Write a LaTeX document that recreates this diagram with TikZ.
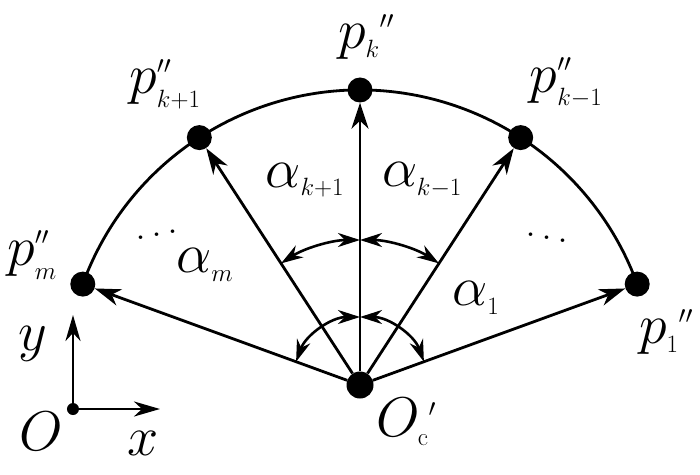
\RequirePackage{fix-cm}
\documentclass[tikz,border=0pt]{standalone}
\usetikzlibrary{arrows.meta}
\DeclareMathSizes{56}{56}{25}{20}
\DeclareMathSizes{44}{44}{30}{20}
\tikzstyle{point}=[circle, fill=black, inner sep=0pt, minimum size=25pt]
\newcommand{\point}{\node[point]}
\tikzstyle{lbl}=[inner sep=0pt, font=\fontsize{56}{62}\selectfont]
\tikzstyle{spoke}=[line width=2.8pt, -{Stealth[length=26pt,width=17pt,inset=8pt]}]
\tikzstyle{angarrow}=[line width=2.6pt, {Stealth[length=22pt,width=14pt,inset=7pt]}-{Stealth[length=22pt,width=14pt,inset=7pt]}]

\begin{document}
\begin{tikzpicture}[x=1pt, y=1pt]
\useasboundingbox (-360,-89) rectangle (340,385);
%sector
\draw[line width=2.8pt] (160:295pt) arc[start angle=160, end angle=20, radius=295pt];
%vertices
\point[minimum size=27pt] (Oc) at (0,0){};
\foreach \a/\n in {160/pm, 123/pk1, 90/pk, 57/pkm, 20/p1}{
	\point (\n) at (\a:295pt){};}
%spokes
\foreach \n in {pm, pk1, pk, pkm, p1}{
	\draw[spoke] (Oc) -- (\n);}
%angles
\draw[angarrow] (123:145pt) arc[start angle=123, end angle=90, radius=145pt];
\draw[angarrow] (90:145pt) arc[start angle=90, end angle=57, radius=145pt];
\draw[angarrow] (160:68pt) arc[start angle=160, end angle=90, radius=68pt];
\draw[angarrow] (90:68pt) arc[start angle=90, end angle=20, radius=68pt];
%names
\node[lbl] (lpm) at (-328,130){$p''_m$};
\node[lbl] (lpk1) at (-195,301){$p''_{k+1}$};
\node[lbl] (lpk) at (6,348){$p_k{}''$};
\node[lbl] (lpkm) at (206,302){$p''_{k-1}$};
\node[lbl] (lp1) at (306,53){$p_1{}''$};
\node[lbl] (lam) at (-155,120){$\alpha_m$};
\node[lbl] (lak1) at (-55,205){$\alpha_{k+1}$};
\node[lbl] (lakm) at (62,205){$\alpha_{k-1}$};
\node[lbl] (la1) at (116,87){$\alpha_1$};
\node[lbl, font=\fontsize{44}{48}\selectfont, xscale=-1] (dl) at (-203,153){$\ddots$};
\node[lbl, font=\fontsize{44}{48}\selectfont] (dr) at (187,150){$\ddots$};
\node[lbl] (lOc) at (46,-37){$O_{\mathrm{c}}{}'$};
%axes
\node[point, minimum size=12pt] (orig) at (-287,-24){};
\coordinate (xend) at (-200,-24);
\coordinate (yend) at (-287,70);
\draw[line width=2.8pt, -{Stealth[length=26pt,width=15pt,inset=8pt]}] (orig.center) -- (xend);
\draw[line width=2.8pt, -{Stealth[length=26pt,width=15pt,inset=8pt]}] (orig.center) -- (yend);
\node[lbl] (lO) at (-319,-46){$O$};
\node[lbl] (lx) at (-217,-58){$x$};
\node[lbl] (ly) at (-327,41){$y$};
\end{tikzpicture}
\end{document}
